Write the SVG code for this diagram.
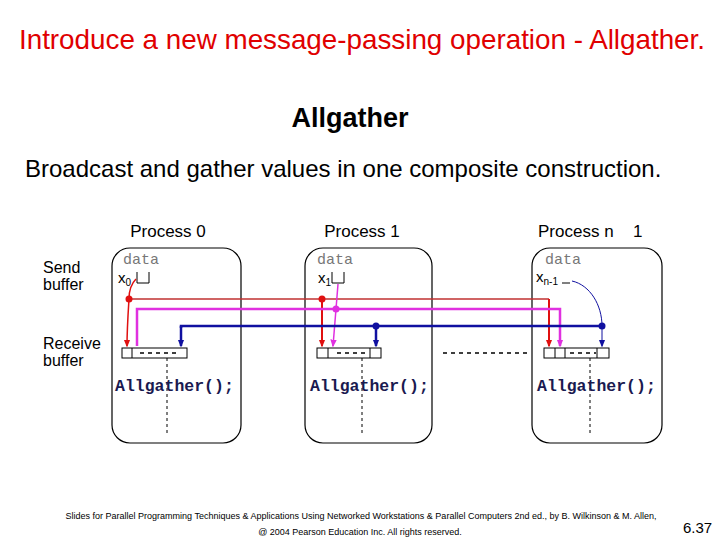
<svg xmlns="http://www.w3.org/2000/svg" width="720" height="540" viewBox="0 0 720 540">
<style>
.t{font-family:"Liberation Sans",Arial,sans-serif;fill:#000}
.proc{fill:#fff;stroke:#000;stroke-width:1.2}
.mono{font-family:"Liberation Mono","Courier New",monospace}
.data{font-size:15px;fill:#777}
.ag{font-size:16.5px;font-weight:bold;fill:#1a1a50}
.buf{fill:#fff;stroke:#000;stroke-width:1}
.dash{stroke:#000;stroke-width:1;stroke-dasharray:3,3;fill:none}
.red{stroke:#e01010;stroke-width:2;fill:none}
.redl{stroke:#c03030;stroke-width:1.5;fill:none}
.mag{stroke:#e030e0;stroke-width:2.5;fill:none}
.blu{stroke:#1010a0;stroke-width:2.5;fill:none}
.lbl{font-size:16px}
</style>
<defs>
<marker id="am" markerWidth="8" markerHeight="10" refX="8" refY="4" orient="auto" markerUnits="userSpaceOnUse" viewBox="0 0 10 8"><path d="M0,0 L10,4 L0,8 z" fill="#e030e0"/></marker>
<marker id="ab" markerWidth="8" markerHeight="10" refX="8" refY="4" orient="auto" markerUnits="userSpaceOnUse" viewBox="0 0 10 8"><path d="M0,0 L10,4 L0,8 z" fill="#1010a0"/></marker>
<marker id="arr" markerWidth="8" markerHeight="10" refX="8" refY="4" orient="auto" markerUnits="userSpaceOnUse" viewBox="0 0 10 8"><path d="M0,0 L10,4 L0,8 z" fill="#e01010"/></marker>
</defs>
<rect width="720" height="540" fill="#fff"/>
<text class="t" x="362" y="49" font-size="27.8" style="fill:#e00000" text-anchor="middle">Introduce a new message-passing operation - Allgather.</text>
<text class="t" x="350" y="127" font-size="27" font-weight="bold" text-anchor="middle">Allgather</text>
<text class="t" x="25" y="177" font-size="24">Broadcast and gather values in one composite construction.</text>

<g id="labels">
<text class="t lbl" x="43" y="273">Send</text>
<text class="t lbl" x="43" y="290">buffer</text>
<text class="t lbl" x="43" y="349">Receive</text>
<text class="t lbl" x="43" y="366">buffer</text>
</g>

<g id="process0">
<text class="t" x="168" y="237" font-size="17" text-anchor="middle">Process 0</text>
<rect class="proc" x="112" y="248" width="129" height="195" rx="18"/>
<text class="mono data" x="123" y="264">data</text>
<text class="t" x="118" y="283" font-size="15">x<tspan font-size="10" dy="3">0</tspan></text>
<path d="M137,272 V283 H149 V272" fill="none" stroke="#000"/>
<rect class="buf" x="122" y="348" width="65" height="10"/>
<line class="buf" x1="132" y1="348" x2="132" y2="358"/>
<line x1="140" y1="353" x2="180" y2="353" stroke="#000" stroke-width="1.5" stroke-dasharray="4,4"/>
<line class="dash" x1="167" y1="358" x2="167" y2="436"/>
<text class="mono ag" x="115" y="391">Allgather();</text>
</g>

<g id="process1">
<text class="t" x="362" y="237" font-size="17" text-anchor="middle">Process 1</text>
<rect class="proc" x="305" y="248" width="127" height="195" rx="18"/>
<text class="mono data" x="317" y="264">data</text>
<text class="t" x="318" y="283" font-size="15">x<tspan font-size="10" dy="3">1</tspan></text>
<path d="M332,272 V283 H344 V272" fill="none" stroke="#000"/>
<rect class="buf" x="317" y="348" width="64" height="10"/>
<line class="buf" x1="328" y1="348" x2="328" y2="358"/>
<line class="buf" x1="370" y1="348" x2="370" y2="358"/>
<line x1="337" y1="353" x2="368" y2="353" stroke="#000" stroke-width="1.5" stroke-dasharray="4,4"/>
<line class="dash" x1="362" y1="358" x2="362" y2="436"/>
<text class="mono ag" x="310" y="391">Allgather();</text>
</g>

<g id="processn1">
<text class="t" x="538" y="237" font-size="17">Process n</text>
<text class="t" x="633" y="237" font-size="17">1</text>
<rect class="proc" x="532" y="248" width="130" height="195" rx="18"/>
<text class="mono data" x="545" y="264">data</text>
<text class="t" x="536" y="282" font-size="15">x<tspan font-size="10" dy="3">n-1</tspan></text>
<line x1="562" y1="283" x2="570" y2="283" stroke="#000"/>
<rect class="buf" x="544" y="348" width="65" height="10"/>
<line class="buf" x1="555" y1="348" x2="555" y2="358"/>
<line class="buf" x1="565" y1="348" x2="565" y2="358"/>
<line class="buf" x1="597" y1="348" x2="597" y2="358"/>
<line x1="570" y1="353" x2="596" y2="353" stroke="#000" stroke-width="1.5" stroke-dasharray="4,4"/>
<line class="dash" x1="590" y1="358" x2="590" y2="436"/>
<text class="mono ag" x="537" y="391">Allgather();</text>
</g>

<g id="connectors">
<line x1="443" y1="353" x2="530" y2="353" stroke="#000" stroke-width="1.5" stroke-dasharray="4,4"/>
<path class="redl" d="M129,299 H549"/>
<path class="red" d="M549,299 V346" marker-end="url(#arr)"/>
<path d="M136,279 C130,285 129,292 129,299 C128,315 127,330 127,346" fill="none" stroke="#e01010" stroke-width="1.5" marker-end="url(#arr)"/>
<circle cx="129" cy="299" r="3.5" fill="#e01010"/>
<path class="red" d="M322,299 V346" marker-end="url(#arr)"/>
<circle cx="322" cy="299" r="3.5" fill="#e01010"/>
<path class="mag" d="M137,346 V309 H560 V346" marker-end="url(#am)"/>
<path d="M338,284 L336,309 L333,346" fill="none" stroke="#e030e0" stroke-width="1.5" marker-end="url(#am)"/>
<circle cx="336" cy="309" r="3.5" fill="#e030e0"/>
<path class="blu" d="M181,328 V326 H602"/>
<path d="M181,326 V346" class="blu" marker-end="url(#ab)"/>
<path class="blu" d="M376,326 V346" marker-end="url(#ab)"/>
<circle cx="376" cy="326" r="3.5" fill="#1010a0"/>
<path d="M572,281 C590,285 602,305 602,326 V346" fill="none" stroke="#1010a0" stroke-width="1" marker-end="url(#ab)"/>
<circle cx="602" cy="326" r="3.5" fill="#1010a0"/>
</g>

<text class="t" x="361" y="519" font-size="9" text-anchor="middle">Slides for Parallel Programming Techniques &amp; Applications Using Networked Workstations &amp; Parallel Computers 2nd ed., by B. Wilkinson &amp; M. Allen,</text>
<text class="t" x="360" y="535" font-size="9" text-anchor="middle">@ 2004 Pearson Education Inc. All rights reserved.</text>
<text class="t" x="683" y="533" font-size="15">6.37</text>
</svg>
